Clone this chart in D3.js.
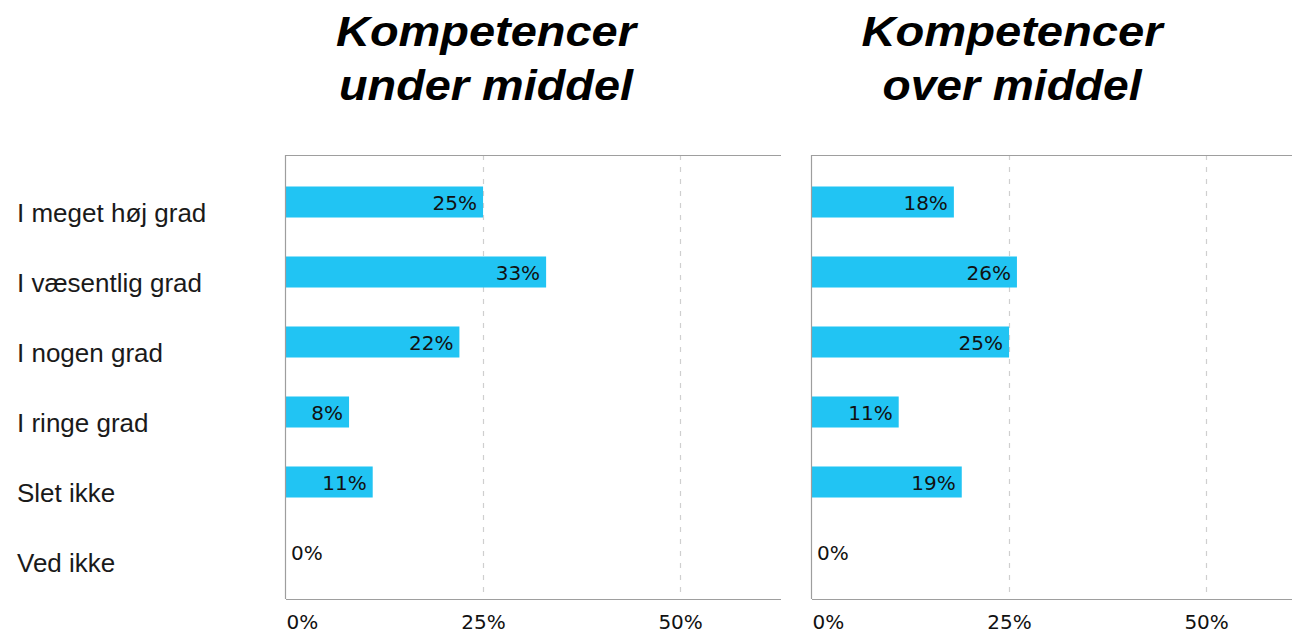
<!DOCTYPE html>
<html>
<head>
<meta charset="utf-8">
<script src="https://cdn.jsdelivr.net/npm/d3@7"></script>
<style>
  html, body { margin: 0; padding: 0; background: #fff; overflow: hidden; }
  svg { display: block; }
</style>
</head>
<body>
<svg id="chart" width="1292" height="634"></svg>
<script>
// Answer categories (rows)
const categories = ["I meget høj grad", "I væsentlig grad", "I nogen grad", "I ringe grad", "Slet ikke", "Ved ikke"];

// Panel titles (two lines each)
const panelTitles = [
  ["Kompetencer", "under middel"],
  ["Kompetencer", "over middel"]
];

// Share of respondents (%) per category
const underMiddel = [25, 33, 22, 8, 11, 0];
const overMiddel  = [18, 26, 25, 11, 19, 0];

// Axis ticks (%)
const tickValues = [0, 25, 50];

const series = [underMiddel, overMiddel];

const svg = d3.select("#chart");

const panelLeft = [286, 812];
const panelWidth = 495;
const plotTop = 155, plotBottom = 599;
const xMax = 62.8;

const barColor = "#21c4f3";
const frameColor = "#9e9e9e";
const gridColor = "#cfcfcf";
const valueFont = "'DejaVu Sans', Verdana, sans-serif";
const labelFont = "'Liberation Sans', Arial, Helvetica, sans-serif";

const y = d3.scaleBand()
  .domain(categories)
  .range([plotTop, plotBottom])
  .paddingInner(0.557)
  .paddingOuter(0.45);

// Category labels on the left
svg.append("g")
  .selectAll("text")
  .data(categories)
  .join("text")
  .attr("x", 17)
  .attr("y", d => y(d) + y.bandwidth() / 2 + 20)
  .attr("font-family", labelFont)
  .attr("font-size", 26)
  .attr("fill", "#1a1a1a")
  .text(d => d);

series.forEach((values, i) => {
  const x0 = panelLeft[i];
  const x = d3.scaleLinear().domain([0, xMax]).range([x0, x0 + panelWidth]);
  const g = svg.append("g");

  // Title
  const titleWidths = [[300, 294], [301, 259]];
  panelTitles[i].forEach((line, k) => {
    g.append("text")
      .attr("x", x0 + 200)
      .attr("y", 46 + k * 54)
      .attr("text-anchor", "middle")
      .attr("font-family", labelFont)
      .attr("font-weight", "bold")
      .attr("font-style", "italic")
      .attr("font-size", 43)
      .attr("textLength", titleWidths[i][k])
      .attr("lengthAdjust", "spacingAndGlyphs")
      .attr("fill", "#000")
      .text(line);
  });

  // Dashed gridlines
  g.append("g")
    .selectAll("line")
    .data(tickValues.filter(t => t > 0))
    .join("line")
    .attr("x1", d => Math.round(x(d)) + 0.5)
    .attr("x2", d => Math.round(x(d)) + 0.5)
    .attr("y1", plotTop)
    .attr("y2", plotBottom)
    .attr("stroke", gridColor)
    .attr("stroke-width", 1.2)
    .attr("stroke-dasharray", "5,7");

  // Bars
  g.append("g")
    .selectAll("rect")
    .data(values)
    .join("rect")
    .attr("x", x(0))
    .attr("y", (d, j) => y(categories[j]))
    .attr("width", d => x(d) - x(0))
    .attr("height", y.bandwidth())
    .attr("fill", barColor);

  // Value labels
  g.append("g")
    .selectAll("text")
    .data(values)
    .join("text")
    .attr("x", d => d > 0 ? x(d) - 6 : x(0) + 5)
    .attr("y", (d, j) => y(categories[j]) + y.bandwidth() / 2 + 8)
    .attr("text-anchor", d => d > 0 ? "end" : "start")
    .attr("font-family", valueFont)
    .attr("font-size", 20)
    .attr("fill", "#111")
    .text(d => d + "%");

  // Frame: top, left, bottom
  const frame = g.append("g").attr("fill", "none").attr("stroke", frameColor).attr("stroke-width", 1.2);
  frame.append("line").attr("x1", x(0)).attr("x2", x(xMax)).attr("y1", plotTop + 0.5).attr("y2", plotTop + 0.5);
  frame.append("line").attr("x1", x(0)).attr("x2", x(xMax)).attr("y1", plotBottom + 0.5).attr("y2", plotBottom + 0.5);
  frame.append("line").attr("x1", x(0) - 0.5).attr("x2", x(0) - 0.5).attr("y1", plotTop).attr("y2", plotBottom);

  // Bottom axis labels
  const axis = d3.axisBottom(x)
    .tickValues(tickValues)
    .tickFormat(d => d + "%")
    .tickSize(0)
    .tickPadding(16);
  const ax = g.append("g")
    .attr("transform", `translate(0,${plotBottom})`)
    .call(axis);
  ax.select(".domain").remove();
  ax.selectAll("text")
    .attr("font-family", valueFont)
    .attr("font-size", 20)
    .attr("fill", "#111")
    .attr("dy", "0.71em")
    .attr("text-anchor", d => d === 0 ? "start" : "middle");
});
</script>
</body>
</html>
